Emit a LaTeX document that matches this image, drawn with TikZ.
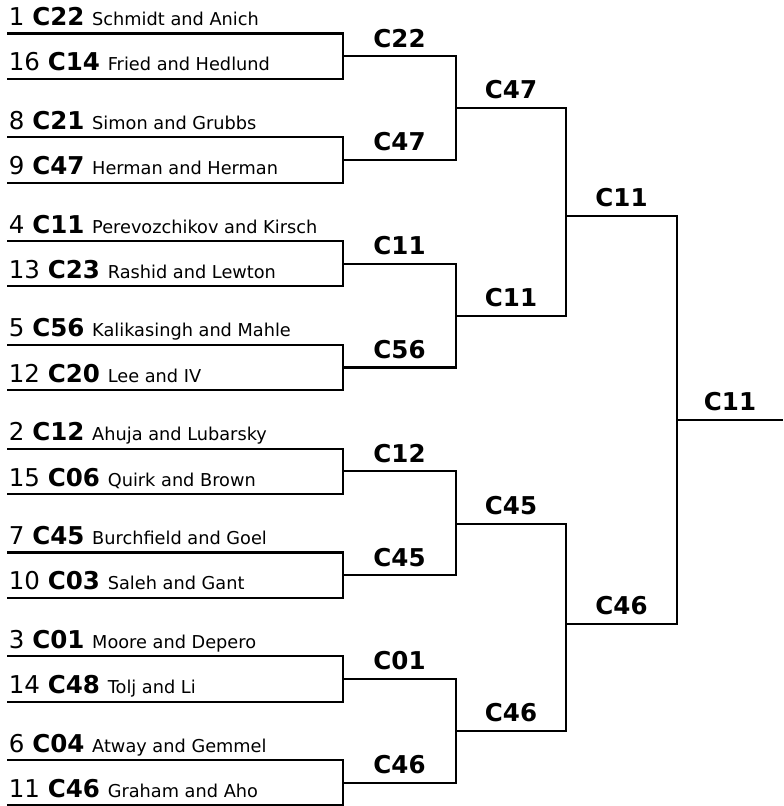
\documentclass[tikz,border=0pt]{standalone}
\usepackage{fontspec}
\setmainfont{DejaVu Sans}
\usepackage{tikz}
\usetikzlibrary{calc}

\newcommand{\seedfont}{\fontsize{18.4}{22}\selectfont}
\newcommand{\teamfont}{\fontsize{13.3}{15}\selectfont}

\tikzset{
    bracket/.style={line width=1.6pt},
    team/.style={anchor=base west, inner sep=0pt, xshift=1.2pt, yshift=6pt, font=\seedfont},
    winner/.style={anchor=base, inner sep=0pt, yshift=6.8pt, font=\seedfont\bfseries}
}

\begin{document}
\begin{tikzpicture}[x=0.75pt, y=-0.75pt]
        \useasboundingbox (0,0) rectangle (783,806);
        
        % first round
        \coordinate (s1) at (7,33.5);
        \coordinate (s2) at (7,78.8);
        \coordinate (s3) at (7,137.3);
        \coordinate (s4) at (7,182.6);
        \coordinate (s5) at (7,241.1);
        \coordinate (s6) at (7,286.4);
        \coordinate (s7) at (7,344.9);
        \coordinate (s8) at (7,390.2);
        \coordinate (s9) at (7,448.7);
        \coordinate (s10) at (7,494.0);
        \coordinate (s11) at (7,552.5);
        \coordinate (s12) at (7,597.8);
        \coordinate (s13) at (7,656.3);
        \coordinate (s14) at (7,701.6);
        \coordinate (s15) at (7,760.1);
        \coordinate (s16) at (7,805.4);
        
        % later rounds
        \coordinate (q1) at (343,56.15);
        \coordinate (q2) at (343,159.95);
        \coordinate (q3) at (343,263.75);
        \coordinate (q4) at (343,367.55);
        \coordinate (q5) at (343,471.35);
        \coordinate (q6) at (343,575.15);
        \coordinate (q7) at (343,678.95);
        \coordinate (q8) at (343,782.75);
        \coordinate (e1) at (456,108.05);
        \coordinate (e2) at (456,315.65);
        \coordinate (e3) at (456,523.6);
        \coordinate (e4) at (456,730.85);
        \coordinate (f1) at (566,215.7);
        \coordinate (f2) at (566,624);
        \coordinate (w) at (677,419.6);
        \coordinate (end) at (783,419.6);
        
        \draw[bracket] (s1) -| (q1) |- (s2);
        \draw[bracket] (s3) -| (q2) |- (s4);
        \draw[bracket] (s5) -| (q3) |- (s6);
        \draw[bracket] (s7) -| (q4) |- (s8);
        \draw[bracket] (s9) -| (q5) |- (s10);
        \draw[bracket] (s11) -| (q6) |- (s12);
        \draw[bracket] (s13) -| (q7) |- (s14);
        \draw[bracket] (s15) -| (q8) |- (s16);
        \draw[bracket] (q1) -| (e1) |- (q2);
        \draw[bracket] (q3) -| (e2) |- (q4);
        \draw[bracket] (q5) -| (e3) |- (q6);
        \draw[bracket] (q7) -| (e4) |- (q8);
        \draw[bracket] (e1) -| (f1) |- (e2);
        \draw[bracket] (e3) -| (f2) |- (e4);
        \draw[bracket] (f1) -| (w) |- (f2);
        \draw[bracket] (w) -- (end);
        
        \node[team] (t1) at (s1) {1 \textbf{C22} {\teamfont Schmidt and Anich}};
        \node[team] (t2) at (s2) {16 \textbf{C14} {\teamfont Fried and Hedlund}};
        \node[team] (t3) at (s3) {8 \textbf{C21} {\teamfont Simon and Grubbs}};
        \node[team] (t4) at (s4) {9 \textbf{C47} {\teamfont Herman and Herman}};
        \node[team] (t5) at (s5) {4 \textbf{C11} {\teamfont Perevozchikov and Kirsch}};
        \node[team] (t6) at (s6) {13 \textbf{C23} {\teamfont Rashid and Lewton}};
        \node[team] (t7) at (s7) {5 \textbf{C56} {\teamfont Kalikasingh and Mahle}};
        \node[team] (t8) at (s8) {12 \textbf{C20} {\teamfont Lee and IV}};
        \node[team] (t9) at (s9) {2 \textbf{C12} {\teamfont Ahuja and Lubarsky}};
        \node[team] (t10) at (s10) {15 \textbf{C06} {\teamfont Quirk and Brown}};
        \node[team] (t11) at (s11) {7 \textbf{C45} {\teamfont Burchfield and Goel}};
        \node[team] (t12) at (s12) {10 \textbf{C03} {\teamfont Saleh and Gant}};
        \node[team] (t13) at (s13) {3 \textbf{C01} {\teamfont Moore and Depero}};
        \node[team] (t14) at (s14) {14 \textbf{C48} {\teamfont Tolj and Li}};
        \node[team] (t15) at (s15) {6 \textbf{C04} {\teamfont Atway and Gemmel}};
        \node[team] (t16) at (s16) {11 \textbf{C46} {\teamfont Graham and Aho}};
        
        \node[winner] (wq1) at ($(q1)!0.5!(q1 -| e1)$) {C22};
        \node[winner] (wq2) at ($(q2)!0.5!(q2 -| e1)$) {C47};
        \node[winner] (wq3) at ($(q3)!0.5!(q3 -| e1)$) {C11};
        \node[winner] (wq4) at ($(q4)!0.5!(q4 -| e1)$) {C56};
        \node[winner] (wq5) at ($(q5)!0.5!(q5 -| e1)$) {C12};
        \node[winner] (wq6) at ($(q6)!0.5!(q6 -| e1)$) {C45};
        \node[winner] (wq7) at ($(q7)!0.5!(q7 -| e1)$) {C01};
        \node[winner] (wq8) at ($(q8)!0.5!(q8 -| e1)$) {C46};
        \node[winner] (we1) at ($(e1)!0.5!(e1 -| f1)$) {C47};
        \node[winner] (we2) at ($(e2)!0.5!(e2 -| f1)$) {C11};
        \node[winner] (we3) at ($(e3)!0.5!(e3 -| f1)$) {C45};
        \node[winner] (we4) at ($(e4)!0.5!(e4 -| f1)$) {C46};
        \node[winner] (wf1) at ($(f1)!0.5!(f1 -| w)$) {C11};
        \node[winner] (wf2) at ($(f2)!0.5!(f2 -| w)$) {C46};
        \node[winner] (ww) at ($(w)!0.5!(end)$) {C11};
    \end{tikzpicture}
\end{document}
